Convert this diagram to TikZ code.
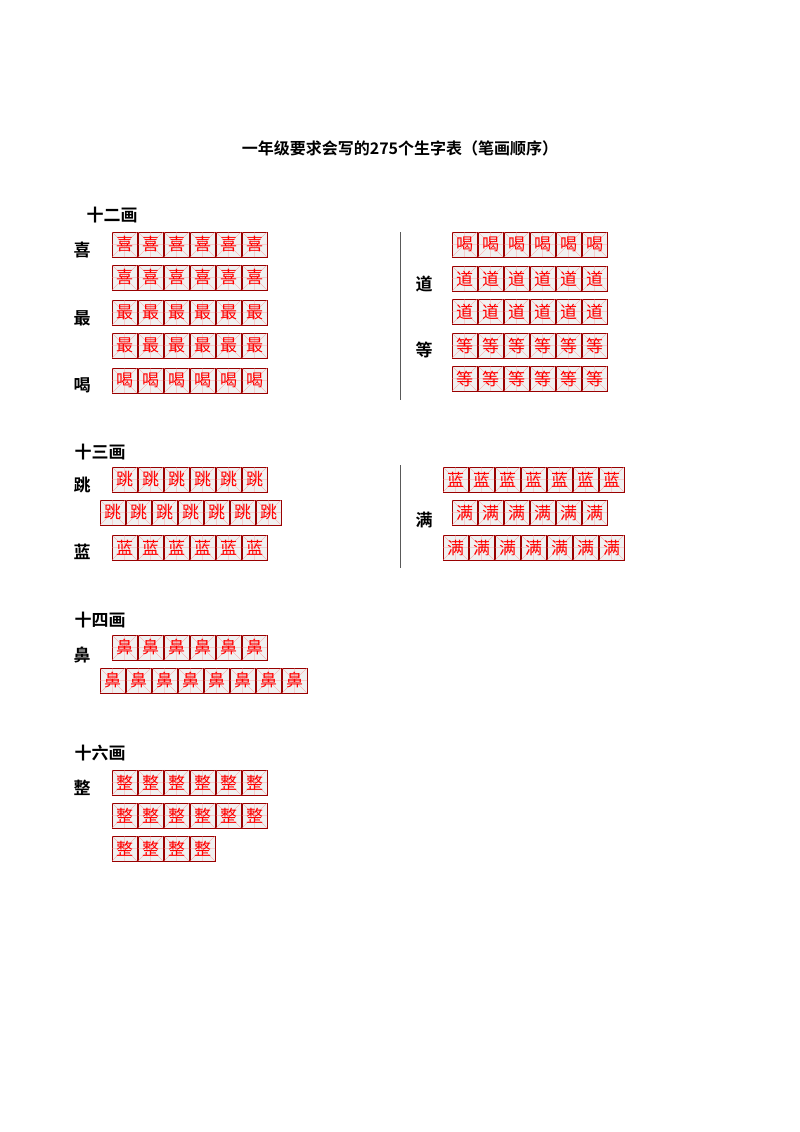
\documentclass[tikz,border=0pt]{standalone}
\usepackage{fontspec}
\newfontfamily\cjk{Noto Sans CJK SC}
\newfontfamily\cjkb{Noto Sans CJK SC Bold}
\tikzset{
  lab/.style={font=\cjkb\fontsize{17}{17}\selectfont, anchor=center, inner sep=0},
  ttl/.style={font=\cjkb\fontsize{16}{16}\selectfont, anchor=center, inner sep=0},
  gbox/.style={fill=gray!12, draw=red!60!black, line width=0.5pt},
  gline/.style={draw=red!45, line width=0.3pt},
  glyph/.style={font=\cjk\fontsize{17}{17}\selectfont, text=red, inner sep=0},
}
% \rowboxes{x}{y}{n}{char}
\newcommand{\rowboxes}[4]{%
  \foreach \i in {1,...,#3}{%
    \pgfmathsetmacro{\bx}{#1+(\i-1)*26}%
    \draw[gbox] (\bx,#2) rectangle ++(25,25);
    \draw[gline] (\bx,#2) -- ++(25,25) (\bx+25,#2) -- ++(-25,25)
      (\bx+12.5,#2) -- ++(0,25) (\bx,#2+12.5) -- ++(25,0);
    \node[glyph] at (\bx+12.5,#2+12.5) {#4};
  }}
\begin{document}
\begin{tikzpicture}[x=1pt,y=-1pt]
\useasboundingbox (0,0) rectangle (800,1132);
\node[ttl] (title) at (400,148) {一年级要求会写的275个生字表（笔画顺序）};
\node[lab] (h12) at (112,215) {十二画};
\node[lab] (xi) at (82,250) {喜};
\rowboxes{112}{232}{6}{喜}
\rowboxes{112}{265}{6}{喜}
\node[lab] (zui) at (82,318) {最};
\rowboxes{112}{300}{6}{最}
\rowboxes{112}{333}{6}{最}
\node[lab] (he) at (82,385) {喝};
\rowboxes{112}{368}{6}{喝}
\draw[gray!70!black, line width=0.6pt] (400,232) coordinate (d1a) -- (400,400) coordinate (d1b);
\rowboxes{452}{232}{6}{喝}
\node[lab] (dao) at (424,284) {道};
\rowboxes{452}{266}{6}{道}
\rowboxes{452}{299}{6}{道}
\node[lab] (deng) at (424,350) {等};
\rowboxes{452}{333}{6}{等}
\rowboxes{452}{366}{6}{等}
\node[lab] (h13) at (100,452) {十三画};
\node[lab] (tiao) at (82,485) {跳};
\rowboxes{112}{467}{6}{跳}
\rowboxes{100}{500}{7}{跳}
\node[lab] (lan) at (82,552) {蓝};
\rowboxes{112}{535}{6}{蓝}
\draw[gray!70!black, line width=0.6pt] (400,465) coordinate (d2a) -- (400,568) coordinate (d2b);
\rowboxes{443}{467}{7}{蓝}
\node[lab] (man) at (424,520) {满};
\rowboxes{452}{500}{6}{满}
\rowboxes{443}{535}{7}{满}
\node[lab] (h14) at (100,620) {十四画};
\node[lab] (bi) at (82,655) {鼻};
\rowboxes{112}{635}{6}{鼻}
\rowboxes{100}{668}{8}{鼻}
\node[lab] (h16) at (100,753) {十六画};
\node[lab] (zheng) at (82,788) {整};
\rowboxes{112}{770}{6}{整}
\rowboxes{112}{803}{6}{整}
\rowboxes{112}{836}{4}{整}
\end{tikzpicture}
\end{document}
